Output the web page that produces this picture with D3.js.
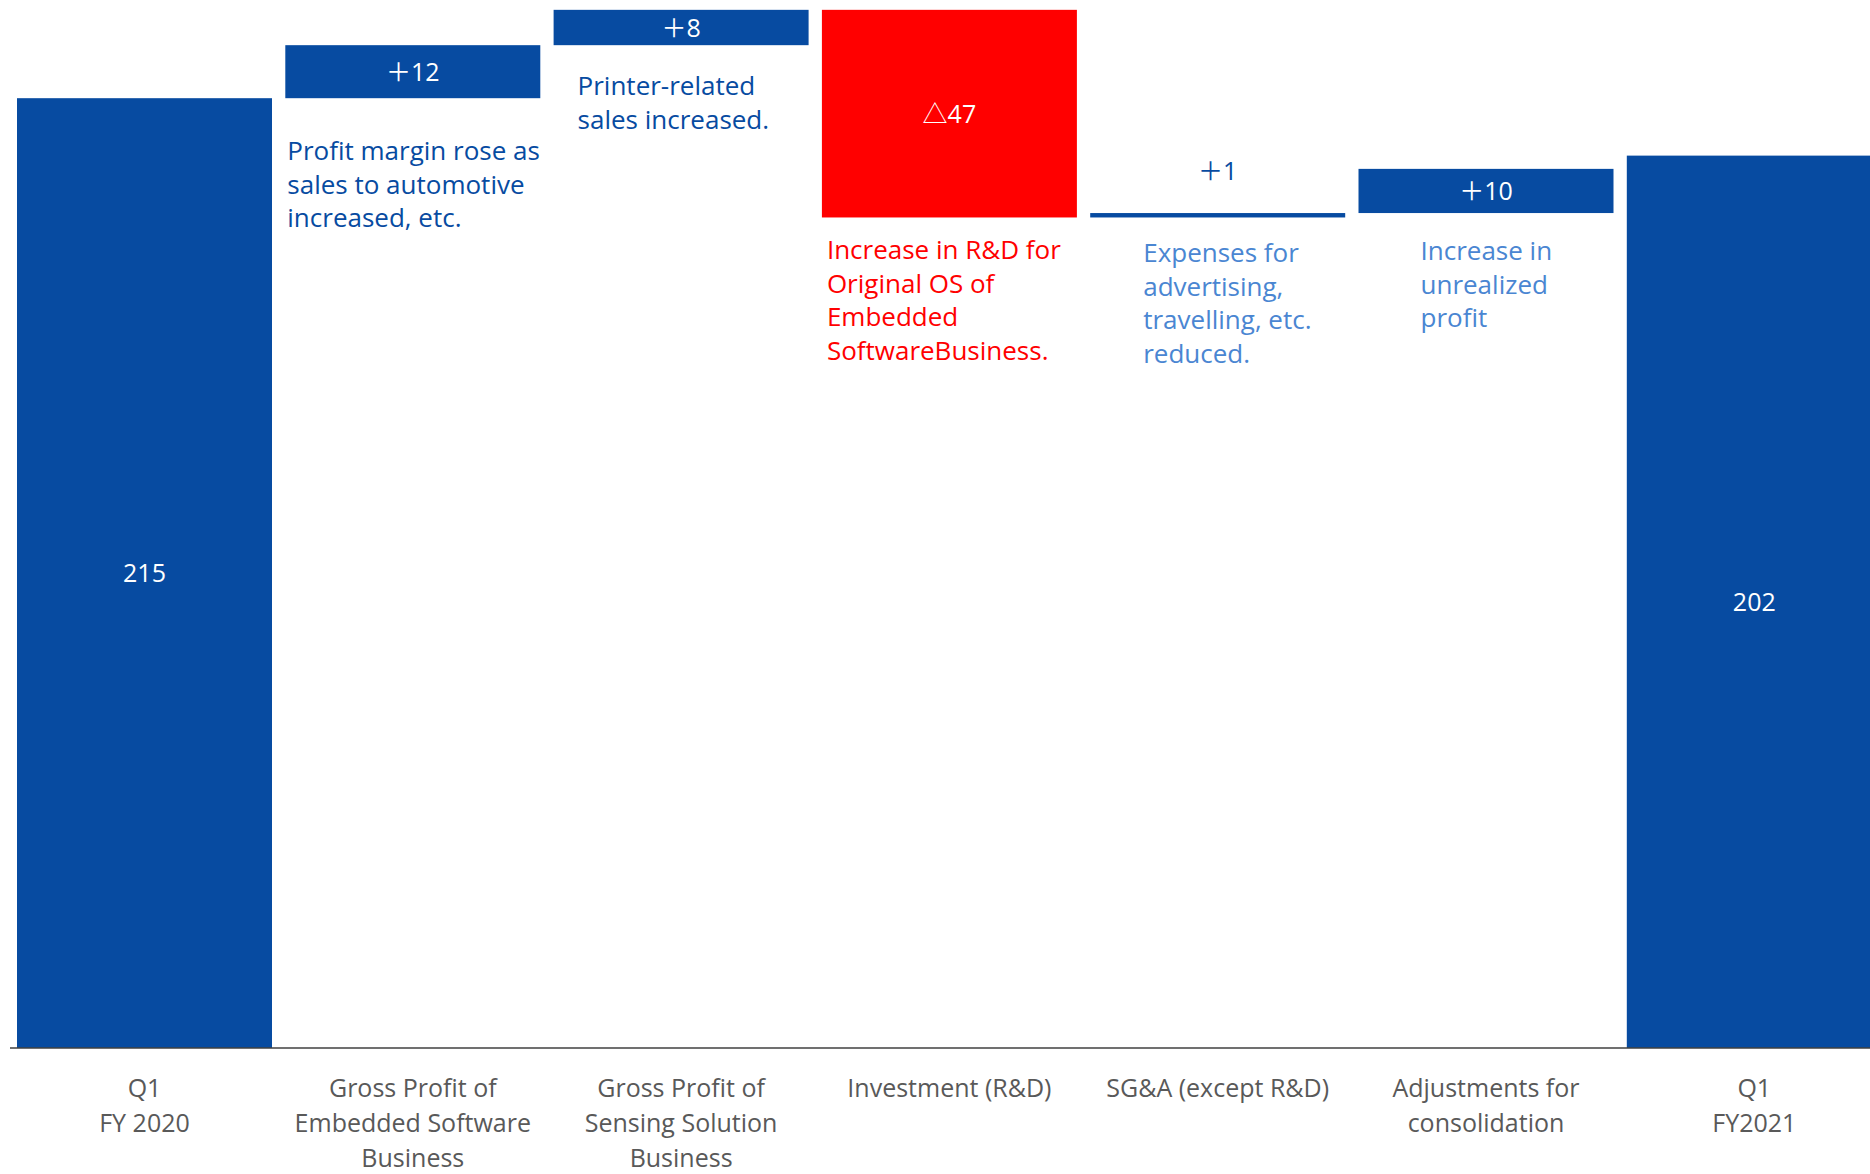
<!DOCTYPE html>
<html>
<head>
<meta charset="utf-8">
<script src="https://cdn.jsdelivr.net/npm/d3@7"></script>
<style>
  html, body { margin: 0; padding: 0; background: #ffffff; }
  svg { display: block; }
  text { font-family: "Open Sans", "Noto Sans", "Noto Sans CJK JP", sans-serif; }
</style>
</head>
<body>
<svg id="chart" width="1870" height="1174"></svg>
<script>
// Operating profit bridge, Q1 FY2020 -> Q1 FY2021 (100 million yen)
const categories = [
  "Q1 FY 2020",
  "Gross Profit of Embedded Software Business",
  "Gross Profit of Sensing Solution Business",
  "Investment (R&D)",
  "SG&A (except R&D)",
  "Adjustments for consolidation",
  "Q1 FY2021"
];
const categoryLines = [
  ["Q1", "FY 2020"],
  ["Gross Profit of", "Embedded Software", "Business"],
  ["Gross Profit of", "Sensing Solution", "Business"],
  ["Investment (R&D)"],
  ["SG&A (except R&D)"],
  ["Adjustments for", "consolidation"],
  ["Q1", "FY2021"]
];
// kind: total bars stand on zero, change bars float on the running total
const kinds  = ["total", "change", "change", "change", "change", "change", "total"];
const values = [215, 12, 8, -47, 1, 10, 202];
const valueLabels = ["215", "＋12", "＋8", "△47", "＋1", "＋10", "202"];
const notes = [
  null,
  ["Profit margin rose as", "sales to automotive", "increased, etc."],
  ["Printer-related", "sales increased."],
  ["Increase in R&D for", "Original OS of", "Embedded", "SoftwareBusiness."],
  ["Expenses for", "advertising,", "travelling, etc.", "reduced."],
  ["Increase in", "unrealized", "profit"],
  null
];

const BLUE = "#074ba1";
const RED = "#ff0000";
const LIGHT = "#4a86d2";
const GREY = "#595959";

// note styling per category: colour and placement relative to the bar
const noteStyle = [
  null,
  { color: BLUE,  dx: 2,  dy: 62 },
  { color: BLUE,  dx: 24, dy: 50 },
  { color: RED,   dx: 5,  dy: 42 },
  { color: LIGHT, dx: 53, dy: 45 },
  { color: LIGHT, dx: 62, dy: 47 },
  null
];

const svg = d3.select("#chart");
const baseY = 1048;

const x = d3.scaleBand()
  .domain(categories)
  .range([10.35, 1888.45])
  .paddingInner(0.0496)
  .paddingOuter(0.0248);

const y = d3.scaleLinear().domain([0, 237]).range([baseY, 1]);

// running totals for the waterfall
let running = 0;
const bars = categories.map((c, i) => {
  let lo, hi;
  if (kinds[i] === "total") {
    lo = 0; hi = values[i]; running = values[i];
  } else {
    const start = running;
    running = start + values[i];
    lo = Math.min(start, running); hi = Math.max(start, running);
  }
  return { cat: c, i, lo, hi, v: values[i], kind: kinds[i] };
});

const colorOf = d => d.v < 0 ? RED : BLUE;

svg.append("g").selectAll("rect")
  .data(bars)
  .join("rect")
  .attr("x", d => x(d.cat))
  .attr("width", x.bandwidth())
  .attr("y", d => y(d.hi))
  .attr("height", d => y(d.lo) - y(d.hi))
  .attr("fill", colorOf);

// value labels: inside the bar, or above it when the bar is too thin
svg.append("g").selectAll("text")
  .data(bars)
  .join("text")
  .attr("x", d => x(d.cat) + x.bandwidth() / 2)
  .attr("y", d => {
    const h = y(d.lo) - y(d.hi);
    if (h < 30) return y(d.hi) - 33;
    return (y(d.lo) + y(d.hi)) / 2 + 9;
  })
  .attr("text-anchor", "middle")
  .attr("font-size", 25)
  .attr("fill", d => (y(d.lo) - y(d.hi)) < 30 ? BLUE : "#ffffff")
  .text(d => valueLabels[d.i]);

// explanatory notes under the change bars
bars.forEach(d => {
  const lines = notes[d.i];
  if (!lines) return;
  const st = noteStyle[d.i];
  const t = svg.append("text")
    .attr("x", x(d.cat) + st.dx)
    .attr("y", y(d.lo) + st.dy)
    .attr("font-size", 26)
    .attr("fill", st.color);
  lines.forEach((ln, k) => {
    t.append("tspan")
      .attr("x", x(d.cat) + st.dx)
      .attr("dy", k === 0 ? 0 : 33.5)
      .text(ln);
  });
});

// baseline
svg.append("line")
  .attr("x1", 10).attr("x2", 1870)
  .attr("y1", baseY).attr("y2", baseY)
  .attr("stroke", "#404040")
  .attr("stroke-width", 1.5);

// category labels
const catG = svg.append("g");
categories.forEach((c, i) => {
  const t = catG.append("text")
    .attr("x", x(c) + x.bandwidth() / 2)
    .attr("y", 1097)
    .attr("text-anchor", "middle")
    .attr("font-size", 25)
    .attr("fill", GREY);
  categoryLines[i].forEach((ln, k) => {
    t.append("tspan")
      .attr("x", x(c) + x.bandwidth() / 2)
      .attr("dy", k === 0 ? 0 : 35)
      .text(ln);
  });
});
</script>
</body>
</html>
